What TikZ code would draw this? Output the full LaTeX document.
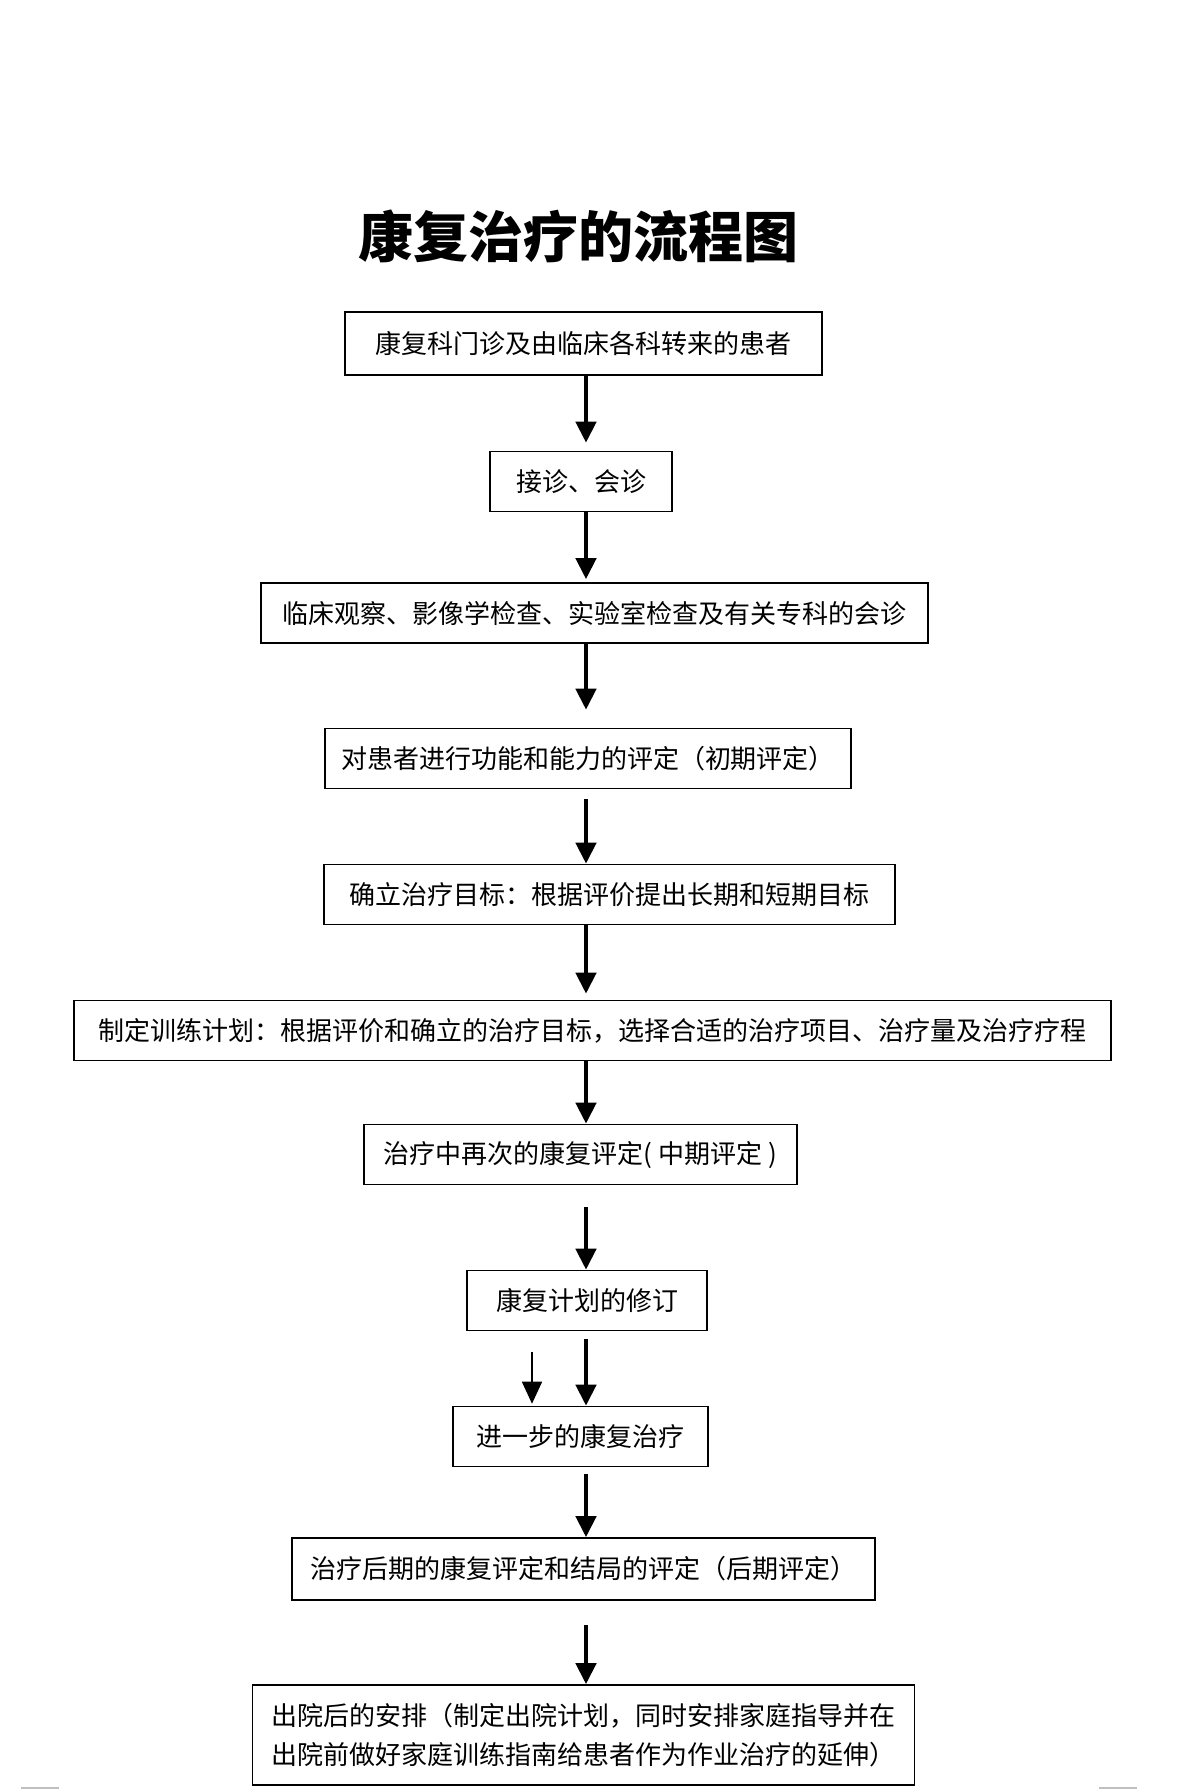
\documentclass[tikz,border=0pt]{standalone}
\usepackage{fontspec}
\newfontfamily\cjk{Noto Sans CJK SC}
\usetikzlibrary{arrows.meta, positioning}
\tikzstyle{stage} = [rectangle, minimum height=30pt, inner sep=0pt, text centered, align=center, draw=black, line width=0.8pt, font=\cjk\fontsize{13pt}{19.5pt}\selectfont]
\tikzstyle{arrow} = [line width=2.2pt, -{Triangle[width=10pt,length=10.5pt]}]
\tikzstyle{thinarrow} = [line width=0.8pt, -{Triangle[width=10pt,length=11pt]}]

\begin{document}
\begin{tikzpicture}[x=1pt, y=-1pt, node distance=68pt]
  \useasboundingbox (0,0) rectangle (600,895);
  \node (title) at (289,118) [font=\cjk\bfseries\fontsize{27.5pt}{32pt}\selectfont] {康复治疗的流程图};
  \node (intake) at (291.75,171.75) [stage, minimum width=238.5pt, minimum height=31.5pt] {康复科门诊及由临床各科转来的患者};
  \node (consult) [stage, below of = intake, minimum width=91pt, xshift=-1.25pt, yshift=-1pt] {接诊、会诊};
  \node (exams) [stage, below of = consult, minimum width=333.5pt, xshift=6.75pt, yshift=2.25pt] {临床观察、影像学检查、实验室检查及有关专科的会诊};
  \node (assess) [stage, below of = exams, minimum width=263pt, xshift=-3.25pt, yshift=-4.75pt] {对患者进行功能和能力的评定（初期评定）};
  \node (goals) [stage, below of = assess, minimum width=285.5pt, xshift=10.75pt] {确立治疗目标：根据评价提出长期和短期目标};
  \node (plan) [stage, below of = goals, minimum width=518.5pt, xshift=-8.5pt] {制定训练计划：根据评价和确立的治疗目标，选择合适的治疗项目、治疗量及治疗疗程};
  \node (midassess) [stage, below of = plan, minimum width=216.5pt, xshift=-6pt, yshift=6pt] {治疗中再次的康复评定( 中期评定 )};
  \node (revise) [stage, below of = midassess, minimum width=120pt, xshift=3.25pt, yshift=-5pt] {康复计划的修订};
  \node (therapy) [stage, below of = revise, minimum width=127.5pt, xshift=-3.25pt] {进一步的康复治疗};
  \node (finalassess) [stage, below of = therapy, minimum width=291.5pt, minimum height=31pt, xshift=1.5pt, yshift=1.75pt] {治疗后期的康复评定和结局的评定（后期评定）};
  \node (discharge) [stage, below of = finalassess, minimum width=331pt, minimum height=50pt, yshift=-15pt] {出院后的安排（制定出院计划，同时安排家庭指导并在\\出院前做好家庭训练指南给患者作为作业治疗的延伸）};
  \coordinate (col) at (293,0);
  \coordinate (sidein) at (266,676);
  \draw [arrow, shorten >=4pt] (intake.south -| col) -- (consult.north -| col);
  \draw [arrow, shorten >=1.5pt] (consult.south -| col) -- (exams.north -| col);
  \draw [arrow, shorten >=9pt] (exams.south -| col) -- (assess.north -| col);
  \draw [arrow, shorten <=5pt] (assess.south -| col) -- (goals.north -| col);
  \draw [arrow, shorten >=3pt] (goals.south -| col) -- (plan.north -| col);
  \draw [arrow] (plan.south -| col) -- (midassess.north -| col);
  \draw [arrow, shorten <=11pt] (midassess.south -| col) -- (revise.north -| col);
  \draw [arrow, shorten <=4pt] (revise.south -| col) -- (therapy.north -| col);
  \draw [thinarrow, shorten >=1pt] (sidein) -- (therapy.north -| sidein);
  \draw [arrow, shorten <=3.5pt] (therapy.south -| col) -- (finalassess.north -| col);
  \draw [arrow, shorten <=12pt] (finalassess.south -| col) -- (discharge.north -| col);
  % page marks at the foot
  \draw [gray!50, line width=1pt] (10.5,894) -- (29.5,894);
  \draw [gray!50, line width=1pt] (549.5,894) -- (568.5,894);
\end{tikzpicture}
\end{document}
